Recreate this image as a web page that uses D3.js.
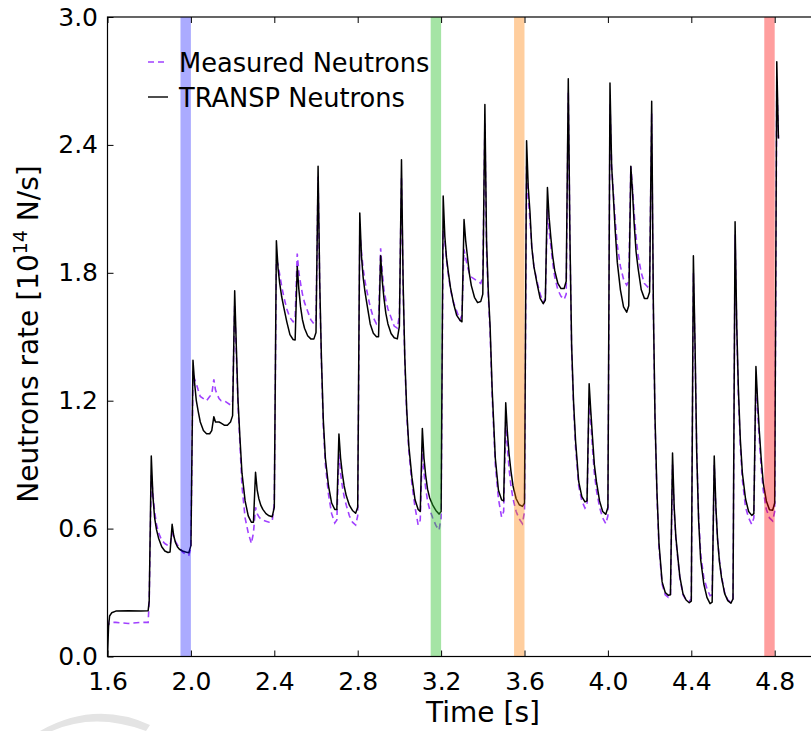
<!DOCTYPE html>
<html>
<head>
<meta charset="utf-8">
<script src="https://cdn.jsdelivr.net/npm/d3@7"></script>
<style>
  html, body { margin: 0; padding: 0; background: #ffffff; }
  svg { display: block; font-family: "DejaVu Sans", sans-serif; }
</style>
</head>
<body>
<svg id="chart" width="811" height="731"></svg>
<script>
// ---------------- data ----------------
const time = [
  1.600, 1.605, 1.610, 1.620, 1.640, 1.700, 1.760, 1.795,
  1.800, 1.810, 1.818, 1.826, 1.835, 1.845, 1.860, 1.875, 1.890,
  1.900, 1.910, 1.918, 1.926, 1.935, 1.945, 1.960, 1.975, 1.990,
  2.000, 2.010, 2.018, 2.026, 2.035, 2.045, 2.060, 2.075, 2.090,
  2.100, 2.110, 2.118, 2.126, 2.135, 2.145, 2.160, 2.175, 2.190,
  2.200, 2.210, 2.218, 2.226, 2.235, 2.245, 2.260, 2.275, 2.290,
  2.300, 2.310, 2.318, 2.326, 2.335, 2.345, 2.360, 2.375, 2.390,
  2.400, 2.410, 2.418, 2.426, 2.435, 2.445, 2.460, 2.475, 2.490,
  2.500, 2.510, 2.518, 2.526, 2.535, 2.545, 2.560, 2.575, 2.590,
  2.600, 2.610, 2.618, 2.626, 2.635, 2.645, 2.660, 2.675, 2.690,
  2.700, 2.710, 2.718, 2.726, 2.735, 2.745, 2.760, 2.775, 2.790,
  2.800, 2.810, 2.818, 2.826, 2.835, 2.845, 2.860, 2.875, 2.890,
  2.900, 2.910, 2.918, 2.926, 2.935, 2.945, 2.960, 2.975, 2.990,
  3.000, 3.010, 3.018, 3.026, 3.035, 3.045, 3.060, 3.075, 3.090,
  3.100, 3.110, 3.118, 3.126, 3.135, 3.145, 3.160, 3.175, 3.190,
  3.200, 3.210, 3.218, 3.226, 3.235, 3.245, 3.260, 3.275, 3.290,
  3.300, 3.310, 3.318, 3.326, 3.335, 3.345, 3.360, 3.375, 3.390,
  3.400, 3.410, 3.418, 3.426, 3.435, 3.445, 3.460, 3.475, 3.490,
  3.500, 3.510, 3.518, 3.526, 3.535, 3.545, 3.560, 3.575, 3.590,
  3.600, 3.610, 3.618, 3.626, 3.635, 3.645, 3.660, 3.675, 3.690,
  3.700, 3.710, 3.718, 3.726, 3.735, 3.745, 3.760, 3.775, 3.790,
  3.800, 3.810, 3.818, 3.826, 3.835, 3.845, 3.860, 3.875, 3.890,
  3.900, 3.910, 3.918, 3.926, 3.935, 3.945, 3.960, 3.975, 3.990,
  4.000, 4.010, 4.018, 4.026, 4.035, 4.045, 4.060, 4.075, 4.090,
  4.100, 4.110, 4.118, 4.126, 4.135, 4.145, 4.160, 4.175, 4.190,
  4.200, 4.210, 4.218, 4.226, 4.235, 4.245, 4.260, 4.275, 4.290,
  4.300, 4.310, 4.318, 4.326, 4.335, 4.345, 4.360, 4.375, 4.390,
  4.400, 4.410, 4.418, 4.426, 4.435, 4.445, 4.460, 4.475, 4.490,
  4.500, 4.510, 4.518, 4.526, 4.535, 4.545, 4.560, 4.575, 4.590,
  4.600, 4.610, 4.618, 4.626, 4.635, 4.645, 4.660, 4.675, 4.690,
  4.700, 4.710, 4.718, 4.726, 4.735, 4.745, 4.760, 4.775, 4.790,
  4.800, 4.810, 4.818
];

const transpNeutrons = [
  0.000, 0.140, 0.190, 0.205, 0.213, 0.215, 0.213, 0.215,
  0.260, 0.940, 0.750, 0.650, 0.595, 0.555, 0.515, 0.495, 0.488,
  0.490, 0.620, 0.565, 0.535, 0.515, 0.503, 0.495, 0.490, 0.487,
  0.520, 1.390, 1.280, 1.200, 1.150, 1.100, 1.060, 1.045, 1.045,
  1.060, 1.125, 1.100, 1.100, 1.100, 1.095, 1.085, 1.085, 1.100,
  1.130, 1.716, 1.450, 1.200, 1.030, 0.860, 0.730, 0.660, 0.630,
  0.630, 0.864, 0.780, 0.740, 0.710, 0.690, 0.670, 0.660, 0.656,
  0.700, 1.950, 1.820, 1.750, 1.690, 1.640, 1.570, 1.510, 1.487,
  1.485, 1.830, 1.720, 1.640, 1.580, 1.540, 1.505, 1.490, 1.490,
  1.520, 2.300, 1.750, 1.400, 1.110, 0.930, 0.800, 0.720, 0.690,
  0.690, 1.044, 0.930, 0.860, 0.800, 0.755, 0.710, 0.685, 0.672,
  0.700, 2.080, 1.880, 1.780, 1.710, 1.650, 1.560, 1.516, 1.500,
  1.500, 1.880, 1.760, 1.680, 1.610, 1.560, 1.515, 1.495, 1.490,
  1.550, 2.330, 1.750, 1.400, 1.160, 0.990, 0.840, 0.735, 0.690,
  0.680, 1.070, 0.930, 0.850, 0.785, 0.745, 0.710, 0.685, 0.668,
  0.680, 2.160, 1.970, 1.870, 1.800, 1.730, 1.655, 1.600, 1.578,
  1.570, 2.050, 1.950, 1.880, 1.800, 1.740, 1.685, 1.660, 1.665,
  1.700, 2.590, 1.950, 1.720, 1.550, 1.250, 0.930, 0.780, 0.735,
  0.730, 1.190, 1.050, 0.950, 0.870, 0.800, 0.740, 0.712, 0.704,
  0.720, 2.420, 2.200, 2.090, 1.920, 1.830, 1.750, 1.680, 1.655,
  1.672, 2.200, 2.060, 1.970, 1.880, 1.810, 1.750, 1.726, 1.726,
  1.760, 2.710, 1.960, 1.460, 1.200, 1.010, 0.820, 0.750, 0.725,
  0.730, 1.280, 1.150, 1.030, 0.900, 0.820, 0.730, 0.680, 0.667,
  0.700, 2.690, 2.300, 2.160, 2.000, 1.850, 1.720, 1.640, 1.615,
  1.645, 2.300, 2.180, 2.030, 1.900, 1.820, 1.720, 1.680, 1.680,
  1.710, 2.605, 1.650, 1.120, 0.780, 0.530, 0.350, 0.300, 0.287,
  0.290, 0.955, 0.700, 0.560, 0.470, 0.375, 0.295, 0.265, 0.252,
  0.260, 1.880, 1.460, 0.955, 0.640, 0.453, 0.340, 0.277, 0.248,
  0.255, 0.940, 0.700, 0.550, 0.445, 0.370, 0.295, 0.262, 0.250,
  0.270, 2.040, 1.550, 1.250, 1.020, 0.860, 0.740, 0.680, 0.662,
  0.670, 1.360, 1.200, 1.060, 0.930, 0.815, 0.730, 0.688, 0.686,
  0.720, 2.790, 2.430
];

const measuredNeutrons = [
  0.170, 0.150, 0.155, 0.160, 0.160, 0.155, 0.160, 0.160,
  0.260, 0.850, 0.760, 0.680, 0.620, 0.580, 0.545, 0.530, 0.520,
  0.520, 0.580, 0.560, 0.540, 0.525, 0.510, 0.490, 0.480, 0.475,
  0.510, 1.340, 1.300, 1.280, 1.250, 1.220, 1.210, 1.200, 1.220,
  1.230, 1.300, 1.250, 1.230, 1.210, 1.200, 1.200, 1.190, 1.180,
  1.200, 1.650, 1.420, 1.180, 1.000, 0.800, 0.650, 0.580, 0.530,
  0.580, 0.700, 0.670, 0.655, 0.645, 0.640, 0.635, 0.630, 0.635,
  0.720, 1.860, 1.840, 1.790, 1.740, 1.690, 1.630, 1.590, 1.570,
  1.590, 1.890, 1.800, 1.750, 1.700, 1.660, 1.620, 1.580, 1.560,
  1.580, 2.250, 1.720, 1.380, 1.080, 0.900, 0.760, 0.670, 0.626,
  0.640, 0.950, 0.860, 0.800, 0.750, 0.710, 0.660, 0.630, 0.617,
  0.660, 2.000, 1.900, 1.820, 1.760, 1.710, 1.640, 1.590, 1.560,
  1.570, 1.915, 1.800, 1.720, 1.670, 1.630, 1.590, 1.550, 1.540,
  1.600, 2.250, 1.720, 1.380, 1.140, 0.970, 0.810, 0.700, 0.617,
  0.640, 0.980, 0.860, 0.790, 0.730, 0.690, 0.650, 0.615, 0.593,
  0.650, 2.000, 1.950, 1.860, 1.790, 1.720, 1.660, 1.620, 1.580,
  1.600, 1.910, 1.870, 1.830, 1.800, 1.780, 1.770, 1.760, 1.750,
  1.780, 2.500, 1.900, 1.700, 1.520, 1.220, 0.900, 0.740, 0.654,
  0.680, 1.100, 0.980, 0.880, 0.800, 0.740, 0.680, 0.645, 0.623,
  0.680, 2.300, 2.150, 2.050, 1.920, 1.830, 1.760, 1.700, 1.660,
  1.680, 2.100, 2.000, 1.930, 1.850, 1.780, 1.720, 1.690, 1.675,
  1.700, 2.650, 1.950, 1.440, 1.180, 0.980, 0.800, 0.730, 0.696,
  0.710, 1.220, 1.100, 0.980, 0.860, 0.780, 0.700, 0.650, 0.623,
  0.660, 2.600, 2.300, 2.180, 2.050, 1.930, 1.830, 1.770, 1.742,
  1.760, 2.300, 2.200, 2.080, 1.970, 1.880, 1.800, 1.750, 1.734,
  1.760, 2.550, 1.620, 1.100, 0.760, 0.510, 0.340, 0.290, 0.277,
  0.280, 0.900, 0.680, 0.550, 0.460, 0.370, 0.290, 0.265, 0.260,
  0.270, 1.800, 1.440, 0.960, 0.660, 0.480, 0.370, 0.318, 0.285,
  0.290, 0.900, 0.690, 0.550, 0.450, 0.375, 0.300, 0.265, 0.255,
  0.270, 1.980, 1.530, 1.220, 0.990, 0.830, 0.700, 0.650, 0.620,
  0.650, 1.300, 1.150, 1.020, 0.890, 0.780, 0.690, 0.650, 0.636,
  0.680, 2.700, 2.430
];

const xTicks = [1.6, 2.0, 2.4, 2.8, 3.2, 3.6, 4.0, 4.4, 4.8];
const yTicks = [0.0, 0.6, 1.2, 1.8, 2.4, 3.0];

// highlighted time windows [start, end] and colours
const bandStart = [1.95, 3.15, 3.55, 4.75];
const bandEnd   = [2.00, 3.20, 3.60, 4.80];
const bandColor = ["rgba(0,0,255,0.33)", "rgba(40,190,40,0.42)", "rgba(255,127,0,0.38)", "rgba(255,0,0,0.38)"];

const seriesNames = ["Measured Neutrons", "TRANSP Neutrons"];

// ---------------- layout ----------------
const svg = d3.select("#chart");
const pLeft = 107.5, pRight = 816.4, pTop = 17, pBottom = 656.5;

const x = d3.scaleLinear().domain([1.6, 5.0]).range([pLeft, pRight]);
const y = d3.scaleLinear().domain([0, 3.0]).range([pBottom, pTop]);

svg.append("defs").append("clipPath").attr("id", "plotclip")
  .append("rect").attr("x", pLeft).attr("y", pTop)
  .attr("width", pRight - pLeft).attr("height", pBottom - pTop);

const plot = svg.append("g").attr("clip-path", "url(#plotclip)");

const idx = d3.range(time.length);
const makeLine = vals => d3.line()
  .x(i => x(time[i]))
  .y(i => y(vals[i]))(idx);

plot.append("path")
  .attr("d", makeLine(measuredNeutrons))
  .attr("fill", "none")
  .attr("stroke", "#a040ff")
  .attr("stroke-width", 1.6)
  .attr("stroke-dasharray", "6,4");

plot.append("path")
  .attr("d", makeLine(transpNeutrons))
  .attr("fill", "none")
  .attr("stroke", "#000000")
  .attr("stroke-width", 1.5)
  .attr("stroke-linejoin", "round");

// translucent time windows on top
plot.selectAll("rect.band")
  .data(bandStart)
  .enter().append("rect")
  .attr("class", "band")
  .attr("x", (d) => x(d))
  .attr("width", (d, i) => x(bandEnd[i]) - x(d))
  .attr("y", pTop)
  .attr("height", pBottom - pTop)
  .attr("fill", (d, i) => bandColor[i]);

// ---------------- axes ----------------
const tickFont = 25;
const xAxis = d3.axisBottom(x).tickValues(xTicks)
  .tickFormat(d3.format(".1f")).tickSizeInner(-6).tickSizeOuter(0).tickPadding(16);
const gx = svg.append("g").attr("transform", `translate(0,${pBottom})`).call(xAxis);

const xTop = d3.axisTop(x).tickValues(xTicks).tickFormat("").tickSizeInner(-6).tickSizeOuter(0);
const gxt = svg.append("g").attr("transform", `translate(0,${pTop})`).call(xTop);

const yAxis = d3.axisLeft(y).tickValues(yTicks)
  .tickFormat(d3.format(".1f")).tickSizeInner(-6).tickSizeOuter(0).tickPadding(9.5);
const gy = svg.append("g").attr("transform", `translate(${pLeft},0)`).call(yAxis);

[gx, gxt, gy].forEach(g => {
  g.select(".domain").remove();
  g.selectAll(".tick line").attr("stroke", "#000").attr("stroke-width", 1);
  g.selectAll(".tick text").attr("fill", "#000")
    .style("font-family", '"DejaVu Sans", sans-serif')
    .style("font-size", tickFont + "px");
});

// frame (spines)
svg.append("rect")
  .attr("x", pLeft).attr("y", pTop)
  .attr("width", pRight - pLeft).attr("height", pBottom - pTop)
  .attr("fill", "none").attr("stroke", "#000").attr("stroke-width", 1.2);

// axis labels
svg.append("text")
  .attr("x", 483).attr("y", 722)
  .attr("text-anchor", "middle")
  .style("font-size", "28px").attr("fill", "#000")
  .text("Time [s]");

const ylab = svg.append("text")
  .attr("transform", `translate(38,334) rotate(-90)`)
  .attr("text-anchor", "middle")
  .style("font-size", "28px").attr("fill", "#000");
ylab.append("tspan").text("Neutrons rate [10");
ylab.append("tspan").attr("dy", -11).style("font-size", "19px").text("14");
ylab.append("tspan").attr("dy", 11).text(" N/s]");

// legend
const legend = svg.append("g");
const legY = [62, 97];
legend.append("line").attr("x1", 148).attr("x2", 168).attr("y1", legY[0]).attr("y2", legY[0])
  .attr("stroke", "#a040ff").attr("stroke-width", 1.6).attr("stroke-dasharray", "6,4");
legend.append("line").attr("x1", 148).attr("x2", 168).attr("y1", legY[1]).attr("y2", legY[1])
  .attr("stroke", "#000").attr("stroke-width", 1.4);
legend.selectAll("text.leg").data(seriesNames).enter().append("text")
  .attr("class", "leg")
  .attr("x", 179).attr("y", (d, i) => legY[i] + 10)
  .style("font-size", "25.7px").attr("fill", "#000")
  .text(d => d);

// faint watermark swoosh at bottom-left
svg.append("path")
  .attr("d", "M40,731 Q95,700 150,725 L146,731 Q95,712 52,731 Z")
  .attr("fill", "#e4e4e4");
</script>
</body>
</html>
